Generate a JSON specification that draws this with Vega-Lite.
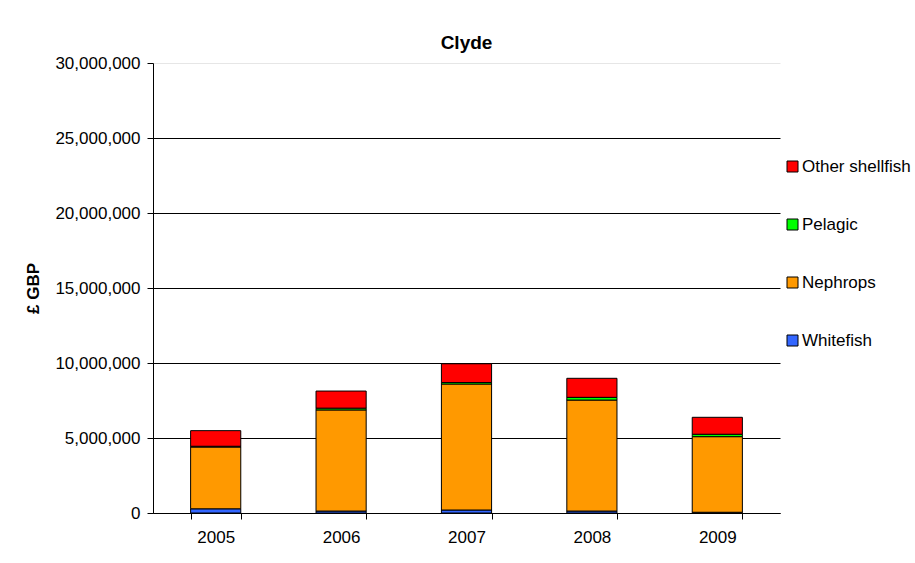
{
  "$schema": "https://vega.github.io/schema/vega-lite/v6.json",
  "autosize": "none",
  "width": 627,
  "height": 450,
  "padding": {"left": 153, "top": 63, "right": 135, "bottom": 50},
  "background": "white",
  "config": {
    "font": "Liberation Sans",
    "view": {"stroke": null},
    "axis": {"labelFont": "Liberation Sans", "titleFont": "Liberation Sans", "labelColor": "black", "titleColor": "black", "domainColor": "black", "tickColor": "black"}
  },
  "title": {"text": "Clyde", "font": "Liberation Sans", "fontSize": 19, "fontWeight": "bold", "color": "black", "anchor": "middle", "offset": 1},
  "data": {
    "values": [
      {"year": "2005", "category": "Whitefish", "rank": 1, "value": 280000},
      {"year": "2005", "category": "Nephrops", "rank": 2, "value": 4120000},
      {"year": "2005", "category": "Pelagic", "rank": 3, "value": 50000},
      {"year": "2005", "category": "Other shellfish", "rank": 4, "value": 1040000},
      {"year": "2006", "category": "Whitefish", "rank": 1, "value": 130000},
      {"year": "2006", "category": "Nephrops", "rank": 2, "value": 6740000},
      {"year": "2006", "category": "Pelagic", "rank": 3, "value": 120000},
      {"year": "2006", "category": "Other shellfish", "rank": 4, "value": 1140000},
      {"year": "2007", "category": "Whitefish", "rank": 1, "value": 200000},
      {"year": "2007", "category": "Nephrops", "rank": 2, "value": 8400000},
      {"year": "2007", "category": "Pelagic", "rank": 3, "value": 100000},
      {"year": "2007", "category": "Other shellfish", "rank": 4, "value": 1250000},
      {"year": "2008", "category": "Whitefish", "rank": 1, "value": 130000},
      {"year": "2008", "category": "Nephrops", "rank": 2, "value": 7400000},
      {"year": "2008", "category": "Pelagic", "rank": 3, "value": 180000},
      {"year": "2008", "category": "Other shellfish", "rank": 4, "value": 1270000},
      {"year": "2009", "category": "Whitefish", "rank": 1, "value": 50000},
      {"year": "2009", "category": "Nephrops", "rank": 2, "value": 5040000},
      {"year": "2009", "category": "Pelagic", "rank": 3, "value": 160000},
      {"year": "2009", "category": "Other shellfish", "rank": 4, "value": 1130000}
    ]
  },
  "mark": {"type": "bar", "stroke": "black", "strokeWidth": 1},
  "encoding": {
    "x": {
      "field": "year", "type": "nominal",
      "scale": {"paddingInner": 0.6, "paddingOuter": 0.3},
      "axis": {"title": null, "labelAngle": 0, "labelFontSize": 17, "tickBand": "extent", "tickSize": 6, "labelPadding": 10, "grid": false}
    },
    "y": {
      "field": "value", "type": "quantitative", "aggregate": "sum",
      "stack": "zero",
      "scale": {"domain": [0, 30000000], "nice": false},
      "axis": {
        "title": "£ GBP", "titleFontSize": 17, "titleFontWeight": "bold", "titlePadding": 12,
        "values": [0, 5000000, 10000000, 15000000, 20000000, 25000000, 30000000],
        "format": ",d", "labelFontSize": 17, "tickSize": 6, "labelPadding": 7,
        "grid": true,
        "gridColor": {"condition": {"test": "datum.value === 30000000", "value": "#e6e6e6"}, "value": "black"},
        "gridOpacity": 1
      }
    },
    "order": {"field": "rank", "type": "quantitative", "sort": "ascending"},
    "color": {
      "field": "category", "type": "nominal",
      "scale": {
        "domain": ["Other shellfish", "Pelagic", "Nephrops", "Whitefish"],
        "range": ["#FF0000", "#00FF00", "#FF9900", "#3366FF"]
      },
      "legend": {
        "title": null, "orient": "none", "legendX": 631, "legendY": 95,
        "symbolType": "square", "symbolSize": 121, "symbolStrokeColor": "black", "symbolStrokeWidth": 1,
        "labelFontSize": 17, "labelColor": "black", "labelFont": "Liberation Sans",
        "rowPadding": 40, "labelOffset": 1, "padding": 0
      }
    }
  }
}
